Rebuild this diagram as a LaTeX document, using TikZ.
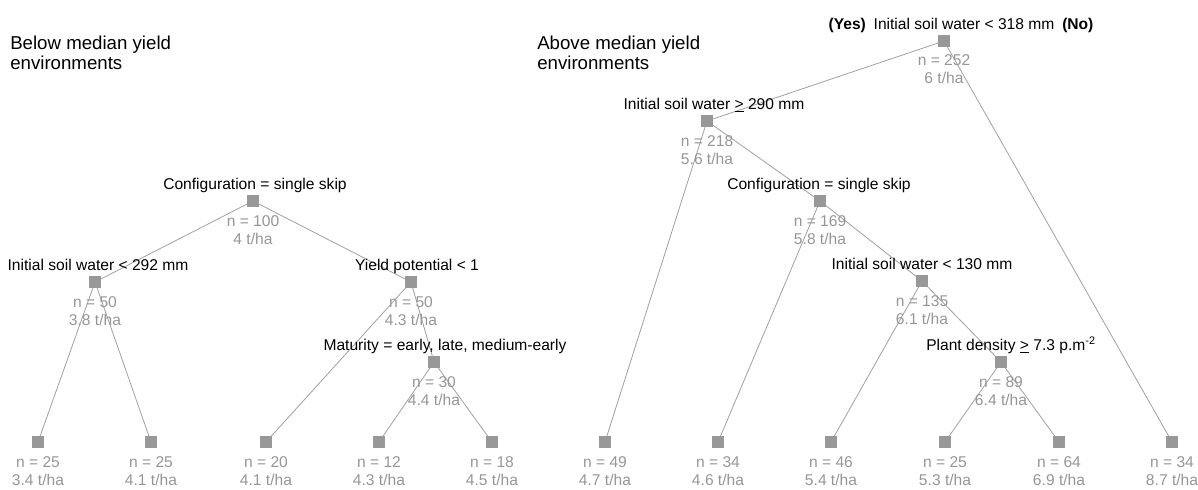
\documentclass[tikz,border=0pt]{standalone}
\usepackage{fontspec}
\setmainfont{Liberation Sans}
\definecolor{sqgray}{RGB}{152,152,152}
\definecolor{txtgray}{RGB}{150,150,150}
\definecolor{edgegray}{RGB}{160,160,160}
\begin{document}
\begin{tikzpicture}[x=0.75pt,y=-0.75pt,
  sq/.style={fill=sqgray, draw=none, inner sep=0pt, minimum size=9pt},
  cond/.style={font=\fontsize{11.7}{14}\selectfont, text=black, inner sep=0pt, anchor=base},
  stat/.style={font=\fontsize{11.7}{13.5}\selectfont, text=txtgray, inner sep=0pt, align=center, anchor=north},
  edge/.style={draw=edgegray, line width=0.6pt},
  ttl/.style={font=\fontsize{14}{15}\selectfont, align=left, anchor=north west, inner sep=0pt}]
\useasboundingbox (0,0) rectangle (1198,489);

% titles
\node[ttl] (tL) at (10,35.5) {Below median yield\\environments};
\node[ttl] (tR) at (537,35.5) {Above median yield\\environments};

% ---------- left tree: squares ----------
\node[sq] (L0) at (253,201) {};
\node[sq] (L1) at (95,282) {};
\node[sq] (L2) at (411,282) {};
\node[sq] (L3) at (434,362) {};
\node[sq] (La) at (38,442) {};
\node[sq] (Lb) at (151,442) {};
\node[sq] (Lc) at (266,442) {};
\node[sq] (Ld) at (379,442) {};
\node[sq] (Le) at (492,442) {};

% ---------- right tree: squares ----------
\node[sq] (R0) at (944,41) {};
\node[sq] (R1) at (707,121) {};
\node[sq] (R2) at (820,201) {};
\node[sq] (R3) at (922,281) {};
\node[sq] (R4) at (1001,362) {};
\node[sq] (Ra) at (605,442) {};
\node[sq] (Rb) at (718,442) {};
\node[sq] (Rc) at (831,442) {};
\node[sq] (Rd) at (945,442) {};
\node[sq] (Re) at (1059,442) {};
\node[sq] (Rf) at (1172,442) {};

% ---------- edges ----------
\draw[edge] (L0.center) -- (L1.center);
\draw[edge] (L0.center) -- (L2.center);
\draw[edge] (L1.center) -- (La.center);
\draw[edge] (L1.center) -- (Lb.center);
\draw[edge] (L2.center) -- (Lc.center);
\draw[edge] (L2.center) -- (L3.center);
\draw[edge] (L3.center) -- (Ld.center);
\draw[edge] (L3.center) -- (Le.center);
\draw[edge] (R0.center) -- (R1.center);
\draw[edge] (R0.center) -- (Rf.center);
\draw[edge] (R1.center) -- (Ra.center);
\draw[edge] (R1.center) -- (R2.center);
\draw[edge] (R2.center) -- (Rb.center);
\draw[edge] (R2.center) -- (R3.center);
\draw[edge] (R3.center) -- (Rc.center);
\draw[edge] (R3.center) -- (R4.center);
\draw[edge] (R4.center) -- (Rd.center);
\draw[edge] (R4.center) -- (Re.center);

% redraw squares on top of edges
\foreach \n in {L0,L1,L2,L3,La,Lb,Lc,Ld,Le,R0,R1,R2,R3,R4,Ra,Rb,Rc,Rd,Re,Rf}
  \fill[sqgray] (\n.south west) rectangle (\n.north east);

% ---------- condition labels ----------
\node[cond] (cL0) at (255,189.5) {Configuration = single skip};
\node[cond] (cL1) at (98,270.5) {Initial soil water < 292 mm};
\node[cond] (cL2) at (417,270.5) {Yield potential < 1};
\node[cond] (cL3) at (445,350.5) {Maturity = early, late, medium-early};
\node[cond] (cR0) at (961,29.5) {\textbf{(Yes)}\enspace Initial soil water < 318 mm\enspace\textbf{(No)}};
\node[cond] (cR1) at (714,109.5) {Initial soil water \underline{>} 290 mm};
\node[cond] (cR2) at (819,189.5) {Configuration = single skip};
\node[cond] (cR3) at (922,269.5) {Initial soil water < 130 mm};
\node[cond] (cR4) at (1011,350.5) {Plant density \underline{>} 7.3 p.m\textsuperscript{-2}};

% ---------- statistics ----------
\node[stat] (sL0) at (253,215.5) {n = 100\\4 t/ha};
\node[stat] (sL1) at (95,296.5) {n = 50\\3.8 t/ha};
\node[stat] (sL2) at (411,296.5) {n = 50\\4.3 t/ha};
\node[stat] (sL3) at (434,376.5) {n = 30\\4.4 t/ha};
\node[stat] (sLa) at (38,456.5) {n = 25\\3.4 t/ha};
\node[stat] (sLb) at (151,456.5) {n = 25\\4.1 t/ha};
\node[stat] (sLc) at (266,456.5) {n = 20\\4.1 t/ha};
\node[stat] (sLd) at (379,456.5) {n = 12\\4.3 t/ha};
\node[stat] (sLe) at (492,456.5) {n = 18\\4.5 t/ha};
\node[stat] (sR0) at (944,54.5) {n = 252\\6 t/ha};
\node[stat] (sR1) at (707,135.5) {n = 218\\5.6 t/ha};
\node[stat] (sR2) at (820,215.5) {n = 169\\5.8 t/ha};
\node[stat] (sR3) at (922,295.5) {n = 135\\6.1 t/ha};
\node[stat] (sR4) at (1001,376.5) {n = 89\\6.4 t/ha};
\node[stat] (sRa) at (605,456.5) {n = 49\\4.7 t/ha};
\node[stat] (sRb) at (718,456.5) {n = 34\\4.6 t/ha};
\node[stat] (sRc) at (831,456.5) {n = 46\\5.4 t/ha};
\node[stat] (sRd) at (945,456.5) {n = 25\\5.3 t/ha};
\node[stat] (sRe) at (1059,456.5) {n = 64\\6.9 t/ha};
\node[stat] (sRf) at (1172,456.5) {n = 34\\8.7 t/ha};
\end{tikzpicture}
\end{document}
